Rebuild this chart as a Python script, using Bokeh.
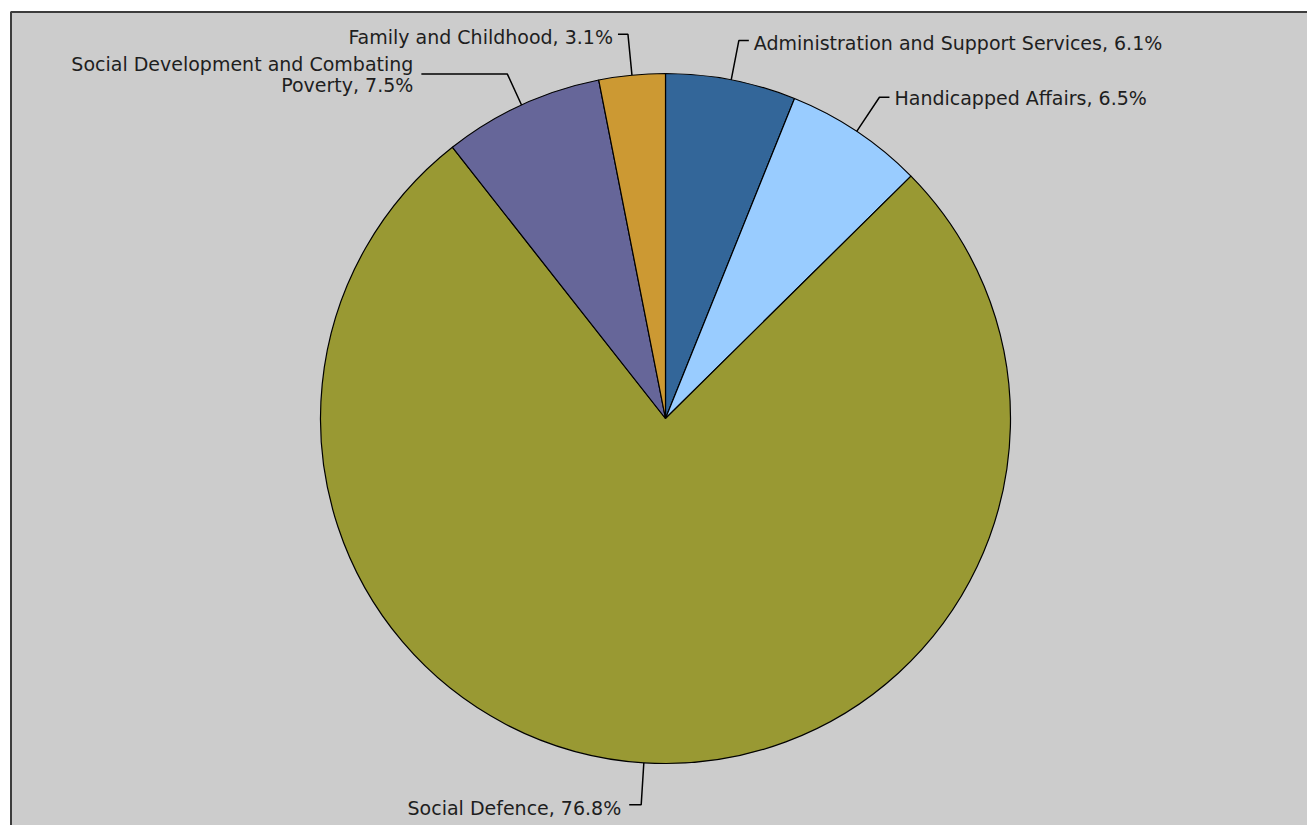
import math
from bokeh.plotting import figure
from bokeh.models import Range1d
from bokeh.embed import file_html
from bokeh.resources import INLINE
from bokeh.core.properties import value

# ---- data ----
categories = [
    "Administration and Support Services",
    "Handicapped Affairs",
    "Social Defence",
    "Social Development and Combating\nPoverty",
    "Family and Childhood",
]
shares = [6.1, 6.5, 76.8, 7.5, 3.1]
colors = ["#336699", "#99ccff", "#999933", "#666699", "#cc9933"]

# ---- layout / style (pixel coordinates, y downward) ----
W, H = 1307, 825
CX, CY, R = 665, 418, 345
# per-label: side of text, elbow radial offset, horizontal segment length, gap, text dy
label_side = ["right", "right", "left", "left", "left"]
elbow_off = [40, 41, 42, 34, 41]
seg_len = [10, 10, 12, 86, 10]
gap = [5, 5, 8, 8, 5]
text_dy = [2, 1, 3, 0, 3]
LINE_H = 21
FONT = "DejaVu Sans"
FSIZE = "19px"
TXT_COLOR = "#1e1e1e"


def Y(py):
    return H - py


p = figure(width=W, height=H, output_backend="svg", toolbar_location=None,
           x_range=Range1d(0, W), y_range=Range1d(0, H), min_border=0,
           background_fill_color="white", border_fill_color="white")
p.axis.visible = False
p.grid.visible = False
p.outline_line_color = None

# chart area background and border (top and left edges visible)
p.quad(left=[11], right=[W + 5], top=[Y(12)], bottom=[-5],
       fill_color="#cccccc", line_color=None)
p.line(x=[W + 5, 10.5, 10.5], y=[Y(11.5), Y(11.5), -5],
       line_color="#3c3c3c", line_width=2)

total = sum(shares)
cum = 0.0
for i, (cat, s, c) in enumerate(zip(categories, shares, colors)):
    f0 = cum / total
    f1 = (cum + s) / total
    cum += s
    start = math.pi / 2 - 2 * math.pi * f0
    end = math.pi / 2 - 2 * math.pi * f1
    p.wedge(x=[CX], y=[Y(CY)], radius=R, start_angle=[start], end_angle=[end],
            direction="clock", fill_color=c, line_color="black", line_width=1.2)

    # leader line
    fm = (f0 + f1) / 2
    th = 2 * math.pi * fm
    ex, ey = CX + R * math.sin(th), CY - R * math.cos(th)
    rr = R + elbow_off[i]
    bx, by = CX + rr * math.sin(th), CY - rr * math.cos(th)
    sgn = 1 if label_side[i] == "right" else -1
    hx = bx + sgn * seg_len[i]
    p.line(x=[ex, bx, hx], y=[Y(ey), Y(by), Y(by)], line_color="black", line_width=1.5)

    tx = hx + sgn * gap[i]
    label = f"{cat}, {s:.1f}%"
    lines = label.split("\n")
    n = len(lines)
    for k, ln in enumerate(lines):
        ty = by + text_dy[i] + (k - (n - 1) / 2) * LINE_H
        p.text(x=[tx], y=[Y(ty)], text=[ln], text_font=value(FONT),
               text_font_size=FSIZE, text_color=TXT_COLOR,
               text_align="left" if sgn > 0 else "right", text_baseline="middle")

open("out.html", "w").write(file_html(p, INLINE))
